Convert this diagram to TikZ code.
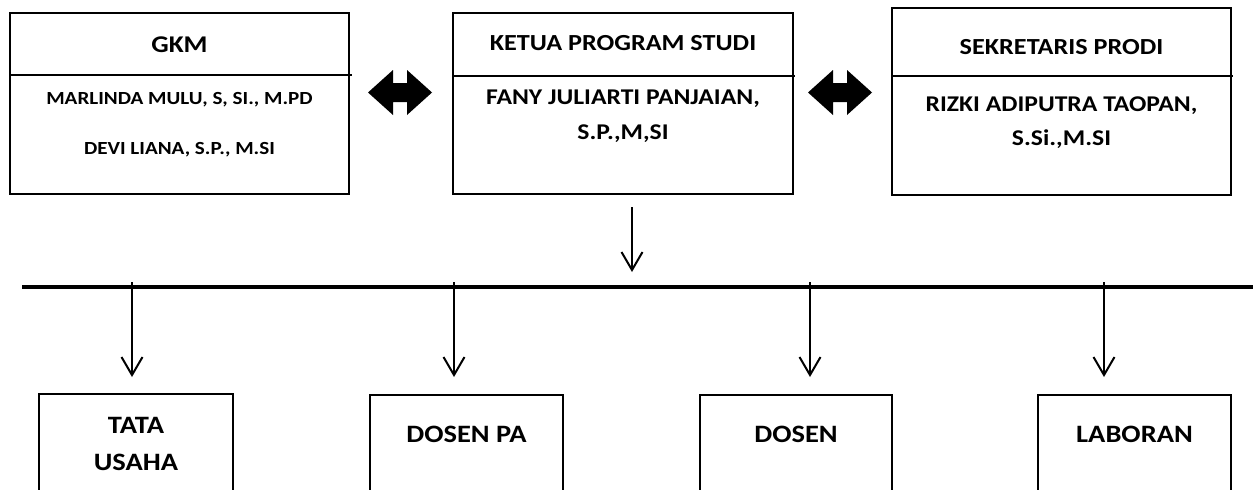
\documentclass[tikz,border=0pt]{standalone}
\usepackage{fontspec}
\setmainfont{Carlito}[FakeStretch=1.14]
\usetikzlibrary{arrows.meta,calc}
\begin{document}
\begin{tikzpicture}[x=1pt,y=-1pt,
  topbox/.style={draw, line width=2.8pt, inner sep=0pt, outer sep=0pt, anchor=north west},
  lowbox/.style={draw, line width=2.4pt, inner sep=0pt, outer sep=0pt, anchor=north west, minimum height=140pt},
  divider/.style={line width=2.8pt},
  hdrtxt/.style={font=\bfseries\fontsize{23}{27}\selectfont, anchor=base, inner sep=0pt},
  gkmtxt/.style={font=\bfseries\fontsize{24}{28}\selectfont, anchor=base, inner sep=0pt},
  smalltxt/.style={font=\bfseries\fontsize{18.5}{22}\selectfont, anchor=base, inner sep=0pt},
  persontxt/.style={font=\bfseries\fontsize{22.5}{27}\selectfont, anchor=base, inner sep=0pt},
  lowtxt/.style={font=\bfseries\fontsize{25}{30}\selectfont, anchor=base, inner sep=0pt},
  bus/.style={line width=3.5pt},
  link/.style={line width=2pt, -{Straight Barb[length=18pt,width=21pt]}},
  dblarrow/.style={fill=black}
]
\useasboundingbox (0,0) rectangle (1259,490);
\clip (0,0) rectangle (1259,490);

% top boxes
\node[topbox, minimum width=339pt, minimum height=181pt] (gkm) at (10,13) {};
\node[topbox, minimum width=340pt, minimum height=181pt] (kps) at (453,13) {};
\node[topbox, minimum width=339pt, minimum height=187pt] (sek) at (892,8) {};

\draw[divider] ($(gkm.north west)+(0,62)$) -- ++(342,0);
\draw[divider] ($(kps.north west)+(0,63)$) -- ++(342,0);
\draw[divider] ($(sek.north west)+(0,68)$) -- ++(341,0);

% top texts
\node[gkmtxt] (gkmT) at (179.5,52.6) {GKM};
\node[smalltxt] (gkm1) at (179.5,104.9) {MARLINDA MULU, S, SI., M.PD};
\node[smalltxt] (gkm2) at (179.5,154.9) {DEVI LIANA, S.P., M.SI};

\node[hdrtxt] (kpsT) at (623,50.3) {KETUA PROGRAM STUDI};
\node[persontxt] (kps1) at (623,104.6) {FANY JULIARTI PANJAIAN,};
\node[persontxt] (kps2) at (623,139.6) {S.P.,M,SI};

\node[hdrtxt] (sekT) at (1061.5,54.8) {SEKRETARIS PRODI};
\node[persontxt] (sek1) at (1061.5,111.6) {RIZKI ADIPUTRA TAOPAN,};
\node[persontxt] (sek2) at (1061.5,145.1) {S.Si.,M.SI};

% double arrows
\coordinate (dA) at (400,92.5);
\coordinate (dB) at (840,92.5);
\foreach \c in {dA,dB}{
  \fill[dblarrow, shift={(\c)}] (-32,0) -- (-7,-22.5) -- (-7,-9.5) -- (7,-9.5) -- (7,-22.5)
     -- (32,0) -- (7,22.5) -- (7,9.5) -- (-7,9.5) -- (-7,22.5) -- cycle;
}

% bus
\coordinate (busL) at (22,287);
\coordinate (busR) at (1253,287);
\draw[bus] (busL) -- (busR);

% arrow from ketua to bus
\coordinate (k0) at (632,207);
\coordinate (k1) at (632,272);
\draw[link] (k0) -- (k1);

% lower boxes
\node[lowbox, minimum width=194pt] (tu) at (39,394) {};
\node[lowbox, minimum width=193pt] (dpa) at (370,395) {};
\node[lowbox, minimum width=192pt] (dos) at (700,395) {};
\node[lowbox, minimum width=193pt] (lab) at (1038,395) {};

\node[lowtxt] (tuT1) at (136,433.9) {TATA};
\node[lowtxt] (tuT2) at (136,470.9) {USAHA};
\node[lowtxt] (dpaT) at (466.5,442.9) {DOSEN PA};
\node[lowtxt] (dosT) at (796,442.9) {DOSEN};
\node[lowtxt] (labT) at (1134.5,442.9) {LABORAN};

% branch arrows
\foreach \x/\n in {132/a,454/b,810/c,1104/d}{
  \coordinate (s\n) at (\x,282);
  \coordinate (e\n) at (\x,377);
  \draw[link] (s\n) -- (e\n);
}
\end{tikzpicture}
\end{document}
